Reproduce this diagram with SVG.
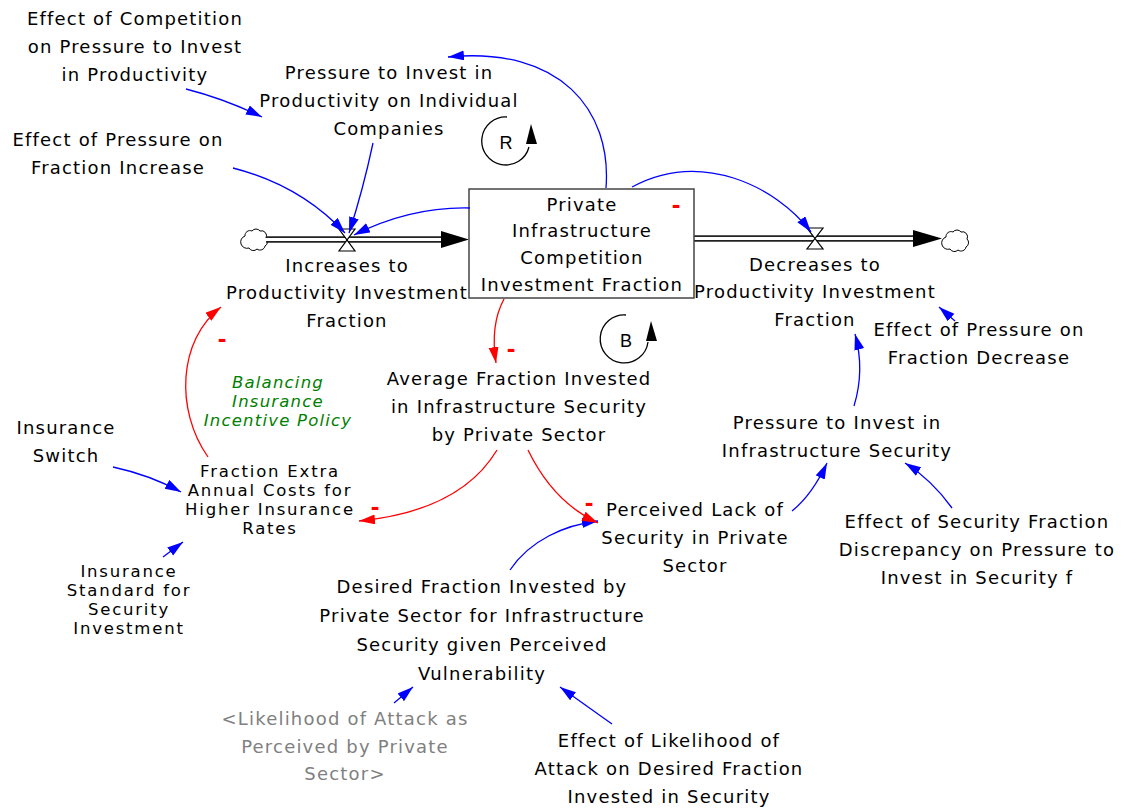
<svg xmlns="http://www.w3.org/2000/svg" width="1124" height="811" viewBox="0 0 1124 811">
  <style>
    text { font-family: "DejaVu Sans", "Liberation Sans", sans-serif; font-size: 18px; letter-spacing: 1.2px; text-anchor: middle; fill: #000; }
    .tight { font-size: 16.5px; letter-spacing: 1.8px; }
    .shadow { fill: #808080; }
    .policy { fill: #008000; font-style: italic; font-size: 16.5px; letter-spacing: 1.2px; }
    .loopletter { font-family: "Liberation Sans", Arial, sans-serif; font-size: 18px; letter-spacing: 0; }
    .pol { fill: #ff0000; font-family: "Liberation Sans", Arial, sans-serif; font-size: 26px; font-weight: bold; letter-spacing: 0; }
    .link { fill: none; stroke: #0000ff; stroke-width: 1.3; marker-end: url(#headBlue); }
    .linkneg { fill: none; stroke: #ff0000; stroke-width: 1.3; marker-end: url(#headRed); }
    .pipeOuter { stroke: #222; stroke-width: 6.5; fill: none; }
    .pipeInner { stroke: #fff; stroke-width: 3; fill: none; }
    .valve { fill: #fff; stroke: #000; stroke-width: 1.2; }
    .cloud { fill: #fff; stroke: #000; stroke-width: 1; }
    .loop { fill: none; stroke: #000; stroke-width: 1.3; }
  </style>
  <defs>
    <marker id="headBlue" markerUnits="userSpaceOnUse" markerWidth="17" markerHeight="11" refX="16" refY="5" orient="auto">
      <path d="M0,0 L16,5 L0,10 z" fill="#0000ff"/>
    </marker>
    <marker id="headRed" markerUnits="userSpaceOnUse" markerWidth="17" markerHeight="11" refX="16" refY="5" orient="auto">
      <path d="M0,0 L16,5 L0,10 z" fill="#ff0000"/>
    </marker>
    <path id="cloudShape" d="M-9,-4 a5,5 0 0,1 7,-5 a5,5 0 0,1 8,0 a5,5 0 0,1 6,7 a5,5 0 0,1 -1,8 a5,5 0 0,1 -8,3 a5,5 0 0,1 -8,-1 a5,5 0 0,1 -4,-12 z"/>
  </defs>

  <!-- flows: pipes, valves, clouds -->
  <g id="flow-increases">
    <use href="#cloudShape" class="cloud" transform="translate(254,240)"/>
    <line class="pipeOuter" x1="266" y1="239.5" x2="446" y2="239.5"/>
    <line class="pipeInner" x1="265" y1="239.5" x2="446" y2="239.5"/>
    <polygon points="441,231 469,239.5 441,248" fill="#000"/>
    <path class="valve" d="M339,229 H355 L339,251 H355 Z"/>
    <text x="347" y="272">Increases to</text>
    <text x="347" y="299">Productivity Investment</text>
    <text x="347" y="327">Fraction</text>
  </g>

  <g id="flow-decreases">
    <line class="pipeOuter" x1="694" y1="238.5" x2="916" y2="238.5"/>
    <line class="pipeInner" x1="694" y1="238.5" x2="916" y2="238.5"/>
    <polygon points="913,230 942,238.5 913,247" fill="#000"/>
    <path class="valve" d="M807,228 H823 L807,249 H823 Z"/>
    <use href="#cloudShape" class="cloud" transform="translate(955,241)"/>
    <text x="815" y="271">Decreases to</text>
    <text x="815" y="298">Productivity Investment</text>
    <text x="815" y="326">Fraction</text>
  </g>

  <!-- stock -->
  <g id="stock">
    <rect x="469" y="189" width="225" height="109" fill="#fff" stroke="#444" stroke-width="1.5"/>
    <text x="582" y="211">Private</text>
    <text x="582" y="237">Infrastructure</text>
    <text x="582" y="264">Competition</text>
    <text x="582" y="291">Investment Fraction</text>
    <text class="pol" x="676" y="213">-</text>
  </g>

  <!-- auxiliary variables -->
  <g id="effect-competition">
    <text x="135" y="25">Effect of Competition</text>
    <text x="135" y="53">on Pressure to Invest</text>
    <text x="135" y="81">in Productivity</text>
  </g>
  <g id="pressure-productivity">
    <text x="389" y="79">Pressure to Invest in</text>
    <text x="389" y="107">Productivity on Individual</text>
    <text x="389" y="135">Companies</text>
  </g>
  <g id="effect-pressure-increase">
    <text x="118" y="146">Effect of Pressure on</text>
    <text x="118" y="174">Fraction Increase</text>
  </g>
  <g id="effect-pressure-decrease">
    <text x="979" y="336">Effect of Pressure on</text>
    <text x="979" y="364">Fraction Decrease</text>
  </g>
  <g id="average-fraction">
    <text x="519" y="385">Average Fraction Invested</text>
    <text x="519" y="413">in Infrastructure Security</text>
    <text x="519" y="441">by Private Sector</text>
  </g>
  <g id="policy-label">
    <text class="policy" x="278" y="388">Balancing</text>
    <text class="policy" x="278" y="407">Insurance</text>
    <text class="policy" x="278" y="426">Incentive Policy</text>
  </g>
  <g id="insurance-switch">
    <text x="66" y="434">Insurance</text>
    <text x="66" y="462">Switch</text>
  </g>
  <g id="fraction-extra-costs">
    <text class="tight" x="270" y="477">Fraction Extra</text>
    <text class="tight" x="270" y="496">Annual Costs for</text>
    <text class="tight" x="270" y="515">Higher Insurance</text>
    <text class="tight" x="270" y="534">Rates</text>
  </g>
  <g id="pressure-security">
    <text x="837" y="429">Pressure to Invest in</text>
    <text x="837" y="457">Infrastructure Security</text>
  </g>
  <g id="perceived-lack">
    <text x="695" y="516">Perceived Lack of</text>
    <text x="695" y="544">Security in Private</text>
    <text x="695" y="572">Sector</text>
  </g>
  <g id="effect-security-discrepancy">
    <text x="977" y="528">Effect of Security Fraction</text>
    <text x="977" y="556">Discrepancy on Pressure to</text>
    <text x="977" y="584">Invest in Security f</text>
  </g>
  <g id="insurance-standard">
    <text class="tight" x="129" y="577">Insurance</text>
    <text class="tight" x="129" y="596">Standard for</text>
    <text class="tight" x="129" y="615">Security</text>
    <text class="tight" x="129" y="634">Investment</text>
  </g>
  <g id="desired-fraction">
    <text x="482" y="593">Desired Fraction Invested by</text>
    <text x="482" y="622">Private Sector for Infrastructure</text>
    <text x="482" y="651">Security given Perceived</text>
    <text x="482" y="680">Vulnerability</text>
  </g>
  <g id="likelihood-attack">
    <text class="shadow" x="345" y="725">&lt;Likelihood of Attack as</text>
    <text class="shadow" x="345" y="753">Perceived by Private</text>
    <text class="shadow" x="345" y="780">Sector&gt;</text>
  </g>
  <g id="effect-likelihood">
    <text x="669" y="747">Effect of Likelihood of</text>
    <text x="669" y="775">Attack on Desired Fraction</text>
    <text x="669" y="803">Invested in Security</text>
  </g>

  <!-- loop markers -->
  <g id="loop-R">
    <path class="loop" d="M507,117 A24,24 0 1,0 529,147"/>
    <polygon points="531,124 526,144 537,144" fill="#000"/>
    <text class="loopletter" x="506" y="149">R</text>
  </g>
  <g id="loop-B">
    <path class="loop" d="M626,315 A24,24 0 1,0 648,342"/>
    <polygon points="651,321 646,341 657,341" fill="#000"/>
    <text class="loopletter" x="626" y="347">B</text>
  </g>

  <!-- connectors -->
  <g id="connectors">
    <path class="link" d="M186,89 Q225,99 262,117"/>
    <path class="link" d="M233,168 C280,180 316,202 345,233"/>
    <path class="link" d="M373,143 Q363,190 349,233"/>
    <path class="link" d="M470,208 C430,207 392,216 354,235"/>
    <path class="link" d="M606,188 C612,110 560,46 448,57"/>
    <path class="link" d="M632,187 C700,150 775,185 811,232"/>
    <path class="link" d="M854,406 Q865,370 855,334"/>
    <path class="link" d="M955,321 L939,307"/>
    <path class="link" d="M792,511 Q812,495 827,463"/>
    <path class="link" d="M952,508 Q932,480 905,463"/>
    <path class="link" d="M113,467 Q150,475 181,492"/>
    <path class="link" d="M163,557 L183,542"/>
    <path class="link" d="M510,570 C530,540 565,525 598,521"/>
    <path class="link" d="M394,703 L413,687"/>
    <path class="link" d="M612,724 L560,687"/>
    <path class="linkneg" d="M504,299 Q490,325 496,363"/>
    <path class="linkneg" d="M497,450 C470,495 420,515 359,521"/>
    <path class="linkneg" d="M528,450 C545,485 570,510 598,523"/>
    <path class="linkneg" d="M208,457 C175,410 178,340 221,307"/>
    <text class="pol" x="511" y="357">-</text>
    <text class="pol" x="222" y="347">-</text>
    <text class="pol" x="375" y="515">-</text>
    <text class="pol" x="589" y="511">-</text>
  </g>
</svg>
